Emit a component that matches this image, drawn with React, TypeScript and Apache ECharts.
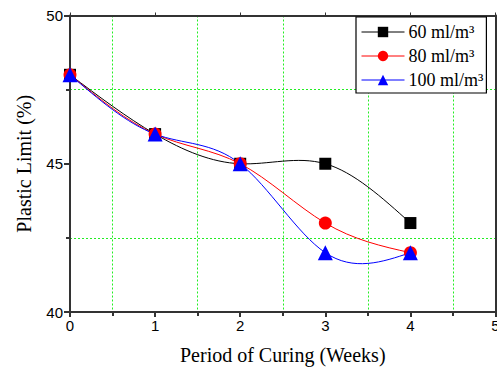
import React, { useEffect, useRef } from "react";
import * as echarts from "echarts";

const weeks = [0, 1, 2, 3, 4];
const s60 = [48, 46, 45, 45, 43];
const s80 = [48, 46, 45, 43, 42];
const s100 = [48, 46, 45, 42, 42];
const seriesNames = ["60 ml/m³", "80 ml/m³", "100 ml/m³"];
const colors = ["#000000", "#ff0000", "#0000ff"];

// natural cubic spline second derivatives (uniform or non-uniform x)
function splineM(xs: number[], ys: number[]): number[] {
  const n = xs.length;
  const M = new Array(n).fill(0);
  if (n < 3) return M;
  const a: number[] = [], b: number[] = [], c: number[] = [], d: number[] = [];
  for (let i = 1; i < n - 1; i++) {
    const h0 = xs[i] - xs[i - 1];
    const h1 = xs[i + 1] - xs[i];
    a.push(h0);
    b.push(2 * (h0 + h1));
    c.push(h1);
    d.push(6 * ((ys[i + 1] - ys[i]) / h1 - (ys[i] - ys[i - 1]) / h0));
  }
  const m = b.length;
  for (let i = 1; i < m; i++) {
    const w = a[i] / b[i - 1];
    b[i] -= w * c[i - 1];
    d[i] -= w * d[i - 1];
  }
  const sol = new Array(m).fill(0);
  sol[m - 1] = d[m - 1] / b[m - 1];
  for (let i = m - 2; i >= 0; i--) sol[i] = (d[i] - c[i] * sol[i + 1]) / b[i];
  for (let i = 0; i < m; i++) M[i + 1] = sol[i];
  return M;
}

function splineSeries(name: string, ys: number[], color: string) {
  const M = splineM(weeks, ys);
  return {
    name,
    type: "custom",
    xAxisIndex: 0,
    yAxisIndex: 0,
    z: 1,
    silent: true,
    data: weeks.map((w, i) => [w, ys[i]]),
    renderItem: (params: any, api: any) => {
      const i = params.dataIndex;
      if (i >= weeks.length - 1) return null;
      const x0 = weeks[i], x1 = weeks[i + 1];
      const y0 = ys[i], y1 = ys[i + 1];
      const h = x1 - x0;
      const slope = (y1 - y0) / h;
      const d0 = slope - (h * (2 * M[i] + M[i + 1])) / 6;
      const d1 = slope + (h * (M[i] + 2 * M[i + 1])) / 6;
      const p0 = api.coord([x0, y0]);
      const p1 = api.coord([x1, y1]);
      const c0 = api.coord([x0 + h / 3, y0 + (d0 * h) / 3]);
      const c1 = api.coord([x1 - h / 3, y1 - (d1 * h) / 3]);
      return {
        type: "bezierCurve",
        shape: {
          x1: p0[0], y1: p0[1],
          x2: p1[0], y2: p1[1],
          cpx1: c0[0], cpy1: c0[1],
          cpx2: c1[0], cpy2: c1[1],
        },
        style: { stroke: color, lineWidth: 1, fill: null },
      };
    },
  };
}

export default function App() {
  const ref = useRef<HTMLDivElement>(null);
  useEffect(() => {
    if (!ref.current) return;
    const chart = echarts.init(ref.current, null, { renderer: "svg" });
    const pair = (vals: number[]) => weeks.map((w, i) => [w, vals[i]]);
    const serif = "'Liberation Serif', 'Times New Roman', serif";
    const sans = "'Liberation Sans', Arial, sans-serif";
    const axisColor = "#333";
    const grid = { type: [2, 2] as any, color: "#22ee22", width: 1 };
    chart.setOption({
      animation: false,
      backgroundColor: "#fff",
      grid: { left: 70, top: 15.5, right: 1.5, bottom: 58, containLabel: false, outerBoundsMode: "none" },
      legend: {
        left: 356,
        top: 17,
        orient: "vertical",
        backgroundColor: "#fff",
        borderColor: "#000",
        borderWidth: 1.2,
        borderRadius: 0,
        padding: [6, 3, 4, 5],
        itemWidth: 43,
        itemHeight: 13,
        itemGap: 6,
        lineStyle: { opacity: 1, width: 1 },
        textStyle: { fontFamily: serif, fontSize: 18, color: "#000", padding: [0, 0, 0, -1] },
        data: seriesNames,
      },
      xAxis: [
        {
          type: "value",
          min: 0,
          max: 5,
          interval: 1,
          name: "Period of Curing (Weeks)",
          nameLocation: "middle",
          nameGap: 33,
          nameTextStyle: { fontFamily: serif, fontSize: 20, color: "#000" },
          axisLine: { show: true, onZero: false, lineStyle: { color: axisColor, width: 2 } },
          axisTick: { show: true, inside: false, length: 5, lineStyle: { color: axisColor, width: 2 } },
          minorTick: { show: true, splitNumber: 2, length: 4, lineStyle: { color: axisColor, width: 2 } },
          axisLabel: { fontFamily: sans, fontSize: 15, color: "#000", margin: 6 },
          splitLine: { show: false },
          minorSplitLine: { show: true, lineStyle: grid },
        },
        {
          type: "value",
          position: "top",
          min: 0,
          max: 5,
          interval: 1,
          axisLine: { show: true, onZero: false, lineStyle: { color: axisColor, width: 2 } },
          axisTick: { show: true, inside: false, length: 3, lineStyle: { color: axisColor, width: 1 } },
          axisLabel: { show: false },
          splitLine: { show: false },
        },
      ],
      yAxis: [
        {
          type: "value",
          min: 40,
          max: 50,
          interval: 5,
          name: "Plastic Limit (%)",
          nameLocation: "middle",
          nameGap: 36,
          nameTextStyle: { fontFamily: serif, fontSize: 20, color: "#000" },
          axisLine: { show: true, onZero: false, lineStyle: { color: axisColor, width: 2 } },
          axisTick: { show: true, inside: false, length: 6, lineStyle: { color: axisColor, width: 2 } },
          minorTick: { show: true, splitNumber: 2, length: 4, lineStyle: { color: axisColor, width: 2 } },
          axisLabel: { fontFamily: sans, fontSize: 15, color: "#000", margin: 7 },
          splitLine: { show: false },
          minorSplitLine: { show: true, lineStyle: grid },
        },
        {
          type: "value",
          position: "right",
          min: 40,
          max: 50,
          interval: 5,
          axisLine: { show: true, onZero: false, lineStyle: { color: axisColor, width: 2 } },
          axisTick: { show: false },
          axisLabel: { show: false },
          splitLine: { show: false },
        },
      ],
      series: [
        splineSeries("curve60", s60, colors[0]),
        splineSeries("curve80", s80, colors[1]),
        splineSeries("curve100", s100, colors[2]),
        {
          name: seriesNames[0],
          type: "line",
          data: pair(s60),
          symbol: "rect",
          symbolSize: 12,
          itemStyle: { color: colors[0] },
          lineStyle: { color: colors[0], width: 1, opacity: 0 },
          z: 2,
        },
        {
          name: seriesNames[1],
          type: "line",
          data: pair(s80),
          symbol: "circle",
          symbolSize: 13,
          itemStyle: { color: colors[1] },
          lineStyle: { color: colors[1], width: 1, opacity: 0 },
          z: 3,
        },
        {
          name: seriesNames[2],
          type: "line",
          data: pair(s100),
          symbol: "triangle",
          symbolSize: 15,
          itemStyle: { color: colors[2] },
          lineStyle: { color: colors[2], width: 1, opacity: 0 },
          z: 4,
        },
      ],
    });
    return () => chart.dispose();
  }, []);
  return <div ref={ref} style={{ width: 497, height: 370, position: "absolute", left: 0, top: 0 }} />;
}
